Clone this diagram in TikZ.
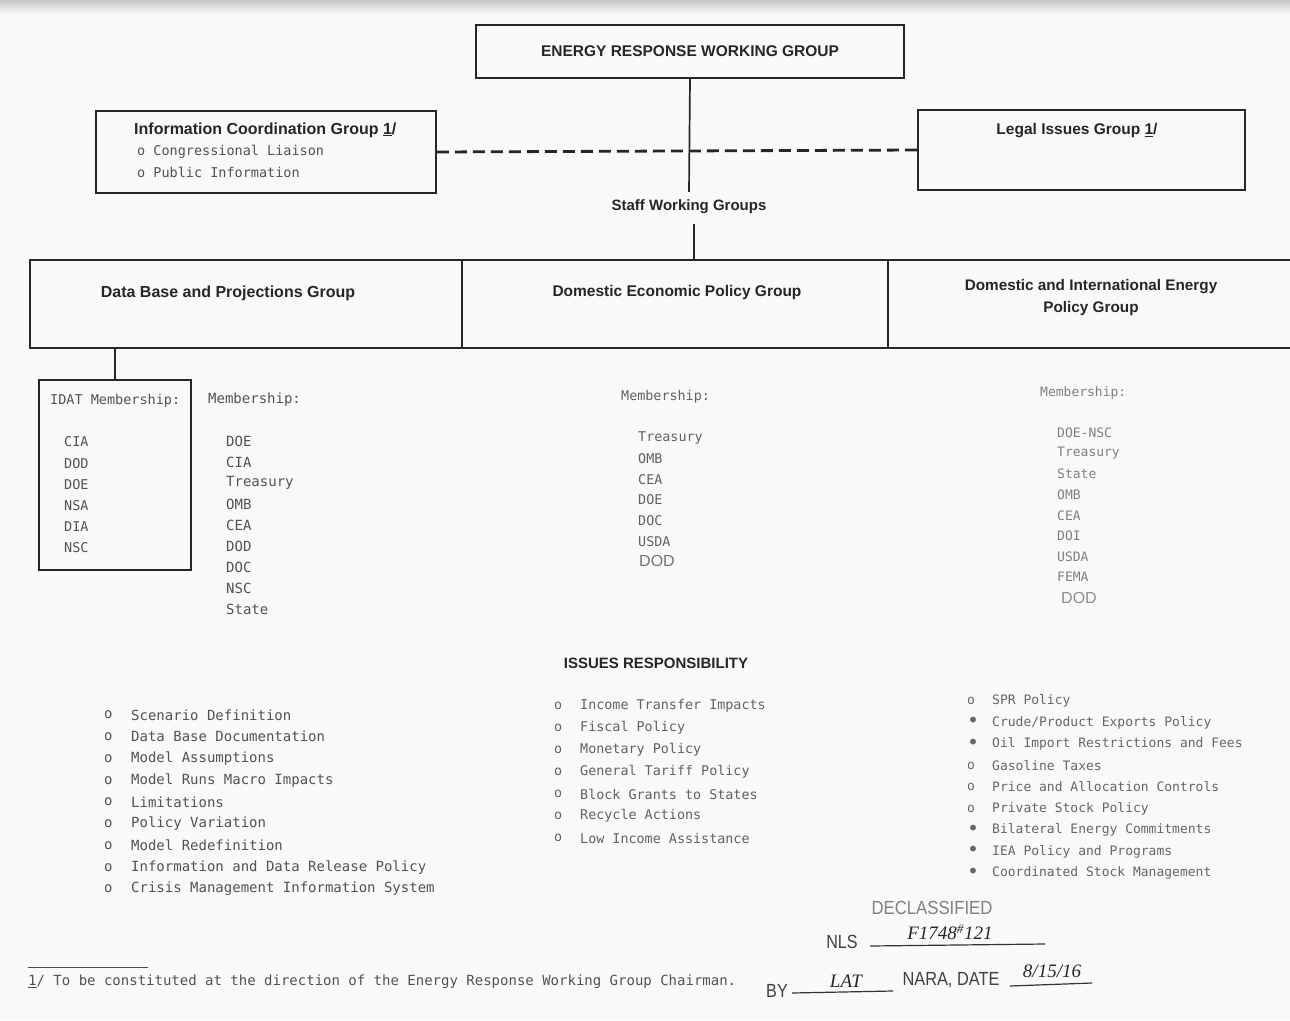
\documentclass[tikz,border=0pt]{standalone}
\usepackage{fontspec}
\usetikzlibrary{calc}
\setmainfont{Liberation Sans}
\newfontfamily\tw{DejaVu Sans Mono}
\newfontfamily\hand{Liberation Serif}
\newcommand{\bigdot}{{\fontsize{20}{16}\selectfont •}}
\begin{document}
\begin{tikzpicture}[x=1pt,y=-1pt,
  box/.style={draw=black!85, line width=1.7pt, inner sep=0pt},
  conn/.style={draw=black!85, line width=1.7pt},
  head/.style={font=\fontsize{15.5}{18}\selectfont\bfseries, text=black!85},
  tt/.style={font=\tw\fontsize{14}{16}\selectfont, text=black!68, anchor=west, inner sep=0pt},
  ttm/.style={font=\tw\fontsize{13.4}{16}\selectfont, text=black!62, anchor=west, inner sep=0pt},
  ttr/.style={font=\tw\fontsize{13}{16}\selectfont, text=black!50, anchor=west, inner sep=0pt},
  added/.style={font=\fontsize{16}{18}\selectfont, text=black!55, anchor=west, inner sep=0pt},
  stamp/.style={font=\fontsize{19}{20}\selectfont, text=black!75, inner sep=0pt},
  handw/.style={font=\hand\itshape\fontsize{19}{20}\selectfont, text=black!85, inner sep=0pt}]
\fill[gray!5] (0,0) rectangle (1290,1020);
\shade[top color=gray!45, bottom color=gray!5] (0,0) rectangle (1290,14);
\useasboundingbox (0,0) rectangle (1290,1020);

% top box
\node[box, minimum width=428pt, minimum height=53pt, head] (erwg) at (690,51.5) {ENERGY RESPONSE WORKING GROUP};

% information coordination group
\node[box, minimum width=340pt, minimum height=82pt] (icg) at (266,152) {};
\node[head, font=\fontsize{16}{18}\selectfont\bfseries, anchor=west, inner sep=0pt] (icgt) at (134,130) {Information Coordination Group \underline{1}/};
\node[tt, font=\tw\fontsize{13.5}{16}\selectfont] (icg1) at (137,152) {o Congressional Liaison};
\node[tt, font=\tw\fontsize{13.5}{16}\selectfont] (icg2) at (137,172) {o Public Information};

% legal issues group
\node[box, minimum width=327pt, minimum height=80pt] (legal) at (1081.5,150) {};
\node[head, inner sep=0pt] (legalt) at (1077,131) {Legal Issues Group \underline{1}/};

% staff working groups
\node[head, font=\fontsize{15}{18}\selectfont\bfseries, inner sep=0pt] (staff) at (689,207) {Staff Working Groups};
\coordinate (rowtop) at (694,260);

% row of groups
\node[box, minimum width=432pt, minimum height=88pt] (dbp) at (246,304) {};
\node[head, font=\fontsize{16}{18}\selectfont\bfseries, inner sep=0pt] (dbpt) at (228,293) {Data Base and Projections Group};
\node[box, minimum width=426pt, minimum height=88pt] (dep) at (675,304) {};
\node[head, inner sep=0pt] (dept) at (677,292) {Domestic Economic Policy Group};
\node[box, minimum width=404pt, minimum height=88pt] (die) at (1090,304) {};
\node[head, font=\fontsize{15.3}{22}\selectfont\bfseries, align=center, inner sep=0pt] (diet) at (1091,298) {Domestic and International Energy\\Policy Group};

% connectors
\draw[conn] (erwg.south) -- ($(staff.north)+(0,-8)$);
\draw[conn] ($(staff.south)+(5,10)$) -- (rowtop);
\draw[conn, line width=2.8pt, dash pattern=on 12pt off 6pt] (icg.east) -- (legal.west);

% IDAT box
\node[box, minimum width=152pt, minimum height=190pt] (idat) at (115,475) {};
\draw[conn] (dbp.south -| idat.north) -- (idat.north);
\node[tt, font=\tw\fontsize{13.5}{16}\selectfont] (idath) at (50,401) {IDAT Membership:};
\foreach \t [count=\i from 0] in {CIA,DOD,DOE,NSA,DIA,NSC}
  \node[tt, font=\tw\fontsize{13.5}{16}\selectfont] (idat\i) at (64,{442+21.2*\i}) {\t};

% left membership
\node[tt] (m1h) at (208,400) {Membership:};
\foreach \t [count=\i from 0] in {DOE,CIA,Treasury,OMB,CEA,DOD,DOC,NSC,State}
  \node[tt] (m1\i) at (226,{441+21*\i}) {\t};

% middle membership
\node[ttm] (m2h) at (621,397) {Membership:};
\foreach \t [count=\i from 0] in {Treasury,OMB,CEA,DOE,DOC,USDA}
  \node[ttm] (m2\i) at (638,{438+20.7*\i}) {\t};
\node[added] (m2dod) at (639,561) {DOD};

% right membership
\node[ttr] (m3h) at (1040,393) {Membership:};
\foreach \t [count=\i from 0] in {DOE-NSC,Treasury,State,OMB,CEA,DOI,USDA,FEMA}
  \node[ttr] (m3\i) at (1057,{433+20.6*\i}) {\t};
\node[added, text=black!45] (m3dod) at (1061,598) {DOD};

% issues responsibility
\node[head, font=\fontsize{15}{18}\selectfont\bfseries, inner sep=0pt] (issues) at (656,663) {ISSUES RESPONSIBILITY};

% left issues
\foreach \t [count=\i from 0] in {Scenario Definition, Data Base Documentation, Model Assumptions, Model Runs Macro Impacts, Limitations, Policy Variation, Model Redefinition, Information and Data Release Policy, Crisis Management Information System} {
  \node[tt] (l\i o) at (104,{715+21.75*\i}) {o};
  \node[tt] (l\i) at (131,{715+21.75*\i}) {\t};
}

% middle issues
\foreach \t [count=\i from 0] in {Income Transfer Impacts, Fiscal Policy, Monetary Policy, General Tariff Policy, Block Grants to States, Recycle Actions, Low Income Assistance} {
  \node[ttm] (c\i o) at (554,{706+22*\i}) {o};
  \node[ttm] (c\i) at (580,{706+22*\i}) {\t};
}

% right issues
\foreach \b/\t [count=\i from 0] in {o/SPR Policy, \bigdot/Crude\slash Product Exports Policy, \bigdot/Oil Import Restrictions and Fees, o/Gasoline Taxes, o/Price and Allocation Controls, o/Private Stock Policy, \bigdot/Bilateral Energy Commitments, \bigdot/IEA Policy and Programs, \bigdot/Coordinated Stock Management} {
  \node[ttr, text=black!60] (r\i o) at (967,{701+21.5*\i}) {\b};
  \node[ttr, text=black!60] (r\i) at (992,{701+21.5*\i}) {\t};
}

% footnote
\coordinate (fnA) at (28,967);
\coordinate (fnB) at (148,967);
\draw[black!70, line width=1pt] (fnA) -- (fnB);
\node[tt] (fn) at (28,982) {\underline{1}/ To be constituted at the direction of the Energy Response Working Group Chairman.};

% declassification stamp
\node[stamp, text=black!50] (decl) at (932,908) {\scalebox{0.88}[1]{DECLASSIFIED}};
\node[stamp] (nls) at (842,942) {\scalebox{0.85}[1]{NLS}};
\coordinate (nlsA) at (870,946);
\coordinate (nlsB) at (1045,944);
\draw[black!80, line width=1.2pt] (nlsA) -- (nlsB);
\node[handw] (nlsv) at (950,932) {F1748\textsuperscript{\#}121};
\node[stamp] (by) at (777,991) {\scalebox{0.85}[1]{BY}};
\coordinate (byA) at (792,993);
\coordinate (byB) at (893,991);
\draw[black!80, line width=1.2pt] (byA) -- (byB);
\node[handw] (byv) at (846,981) {LAT};
\node[stamp] (nara) at (951,980) {\scalebox{0.86}[1]{NARA, DATE}};
\coordinate (dA) at (1010,986);
\coordinate (dB) at (1092,983);
\draw[black!80, line width=1.2pt] (dA) -- (dB);
\node[handw] (datev) at (1052,971) {8/15/16};
\end{tikzpicture}
\end{document}
